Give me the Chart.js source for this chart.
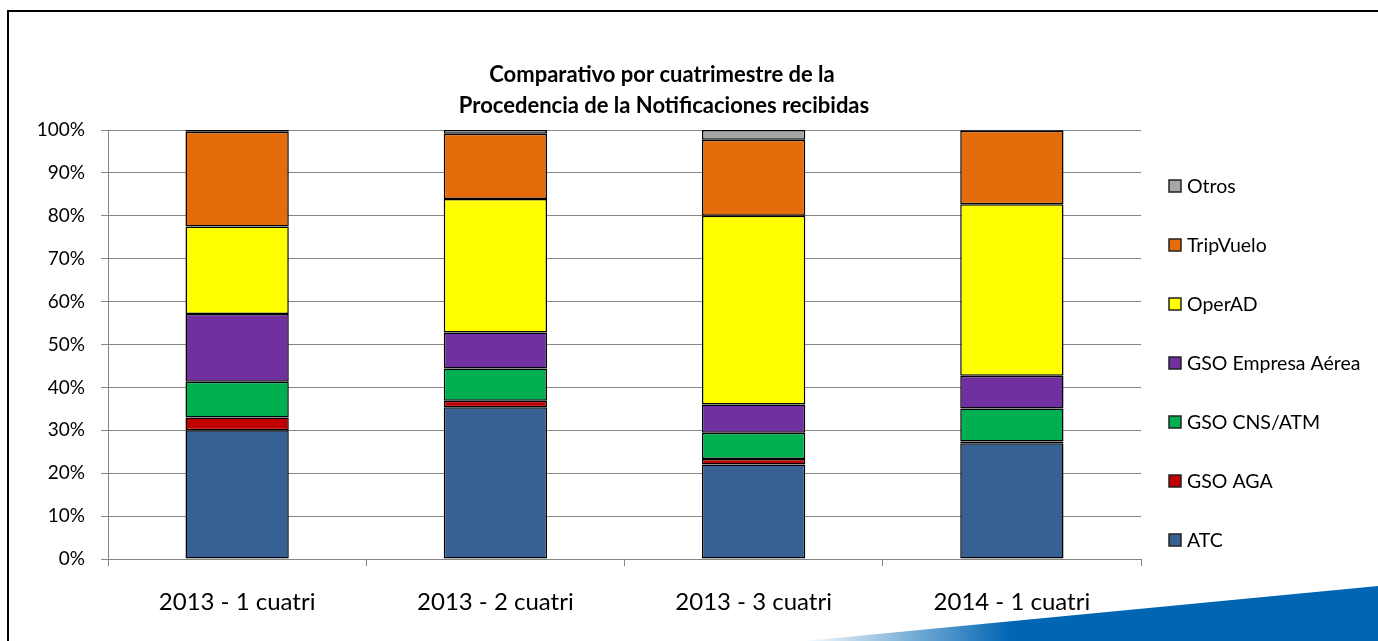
<!DOCTYPE html>
<html><head><meta charset="utf-8">
<script src="https://cdn.jsdelivr.net/npm/chart.js@4"></script>
<style>html,body{margin:0;padding:0;background:#fff;overflow:hidden;} #wrap{width:1378px;height:641px;position:relative;}</style>
</head><body><div id="wrap"><canvas id="c" width="1378" height="641"></canvas></div>
<script>
const categories = ['2013 - 1 cuatri', '2013 - 2 cuatri', '2013 - 3 cuatri', '2014 - 1 cuatri'];
const atc        = [30.0, 35.4, 22.0, 27.0];
const gsoAga     = [3.0, 1.5, 1.3, 0.4];
const gsoCns     = [8.3, 7.5, 6.1, 7.7];
const gsoEmpresa = [15.8, 8.4, 6.6, 7.6];
const operAd     = [20.4, 31.1, 44.0, 40.0];
const tripVuelo  = [22.1, 15.2, 17.7, 17.1];
const otros      = [0.4, 0.9, 2.3, 0.2];
const seriesNames = ['ATC', 'GSO AGA', 'GSO CNS/ATM', 'GSO Empresa Aérea', 'OperAD', 'TripVuelo', 'Otros'];
const seriesColors = ['#376192', '#c00000', '#00b050', '#7030a0', '#ffff00', '#e46c0a', '#a6a6a6'];
const yTickLabels = ['0%', '10%', '20%', '30%', '40%', '50%', '60%', '70%', '80%', '90%', '100%'];
const titleLines = ['Comparativo por cuatrimestre de la', 'Procedencia de la Notificaciones recibidas'];

const FONT = 'Lato, "Open Sans", sans-serif';
const seriesData = [atc, gsoAga, gsoCns, gsoEmpresa, operAd, tripVuelo, otros];
const datasets = seriesData.map((d, i) => ({
  label: seriesNames[i],
  data: d,
  backgroundColor: seriesColors[i],
  borderColor: '#000',
  borderWidth: 1.5,
  borderSkipped: false,
  barPercentage: 0.4,
  categoryPercentage: 1.0
}));

const decor = {
  id: 'decor',
  beforeDraw(chart) {
    const ctx = chart.ctx;
    ctx.save();
    ctx.fillStyle = '#fff';
    ctx.fillRect(0, 0, chart.width, chart.height);
    const g = ctx.createLinearGradient(800, 0, 1010, 0);
    g.addColorStop(0, 'rgba(0,102,179,0)');
    g.addColorStop(1, 'rgba(0,102,179,1)');
    ctx.fillStyle = g;
    ctx.beginPath();
    ctx.moveTo(805, 641);
    ctx.lineTo(1378, 586);
    ctx.lineTo(1378, 641);
    ctx.closePath();
    ctx.fill();
    ctx.strokeStyle = '#000';
    ctx.lineWidth = 2;
    ctx.beginPath();
    ctx.moveTo(8, 645);
    ctx.lineTo(8, 11);
    ctx.lineTo(1385, 11);
    ctx.stroke();
    ctx.restore();
  },
  afterDraw(chart) {
    const ctx = chart.ctx;
    ctx.save();
    ctx.fillStyle = '#000';
    ctx.textAlign = 'center';
    ctx.textBaseline = 'middle';
    ctx.font = 'bold 22px ' + FONT;
    ctx.fillText(titleLines[0], 662, 75);
    ctx.fillText(titleLines[1], 664, 106);
    ctx.textAlign = 'left';
    ctx.font = '19.5px ' + FONT;
    const ds = chart.data.datasets;
    for (let k = 0; k < ds.length; k++) {
      const d = ds[ds.length - 1 - k];
      const cy = 186 + k * 59;
      ctx.fillStyle = d.backgroundColor;
      ctx.fillRect(1169, cy - 6, 12, 12);
      ctx.strokeStyle = '#222';
      ctx.lineWidth = 1.5;
      ctx.strokeRect(1169, cy - 6, 12, 12);
      ctx.fillStyle = '#000';
      ctx.fillText(d.label, 1187, cy + 1);
    }
    ctx.restore();
  }
};

new Chart(document.getElementById('c'), {
  type: 'bar',
  data: { labels: categories, datasets },
  options: {
    responsive: false,
    animation: false,
    devicePixelRatio: 1,
    layout: { padding: { top: 130, right: 237, bottom: 0, left: 0 } },
    plugins: { legend: { display: false }, title: { display: false }, tooltip: { enabled: false } },
    scales: {
      x: {
        stacked: true,
        grid: { display: true, drawOnChartArea: false, drawTicks: true, tickLength: 7, color: '#868686', offset: true },
        border: { display: true, color: '#868686', width: 1 },
        ticks: { color: '#000', font: { family: FONT, size: 24 }, padding: 22, maxRotation: 0, autoSkip: false },
        afterFit(s) { s.height = 82; }
      },
      y: {
        stacked: true,
        min: 0, max: 100,
        grid: { color: '#868686', tickLength: 7 },
        border: { display: true, color: '#868686', width: 1 },
        ticks: { stepSize: 10, color: '#000', font: { family: FONT, size: 19 }, padding: 16,
          callback: (v) => yTickLabels[Math.round(v / 10)] },
        afterFit(s) { s.width = 108; }
      }
    }
  },
  plugins: [decor]
});
</script></body></html>
